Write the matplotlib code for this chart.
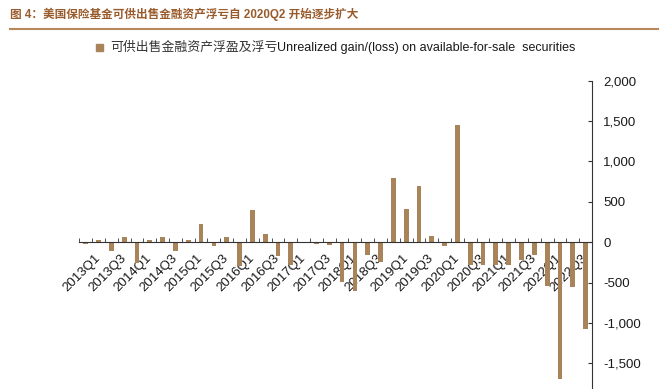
import matplotlib
matplotlib.use("Agg")
import matplotlib.pyplot as plt
from matplotlib.ticker import FuncFormatter, FixedLocator
from matplotlib.lines import Line2D

plt.rcParams['font.family'] = ['Liberation Sans', 'Noto Sans CJK SC', 'DejaVu Sans']

quarters = ["2012Q4"] + [f"{y}Q{q}" for y in range(2013, 2023) for q in range(1, 5)][:39]
values = [-29, 21, -107, 58, -261, 21, 66, -107, 21, 221,
          -45, 58, -294, 398, 107, -169, -282, 3, -21, -37,
          -488, -600, -165, -240, 789, 409, 690, 79, -50, 1450,
          -281, -289, -281, -289, -227, -165, -541, -1690, -550, -1070]
yticks = [-1500, -1000, -500, 0, 500, 1000, 1500, 2000]

title = "图 4：美国保险基金可供出售金融资产浮亏自 2020Q2 开始逐步扩大"
legend_cn = "可供出售金融资产浮盈及浮亏"
legend_en = "Unrealized gain/(loss) on available-for-sale  securities"

bar_color = "#A9835A"
W, H = 668, 389
fig = plt.figure(figsize=(W / 100, H / 100), dpi=100)

ax_left, ax_right = 79.3, 592.0
ax_top, ax_bottom = 80.7, 389.0
ax = fig.add_axes([ax_left / W, 1 - ax_bottom / H, (ax_right - ax_left) / W, (ax_bottom - ax_top) / H])

x = list(range(len(values)))
ax.bar(x, values, width=0.37, color=bar_color, zorder=2)

ax.set_xlim(-0.5, len(values) - 0.5)
ax.set_ylim(-1819, 2000)

for s in ["left", "top"]:
    ax.spines[s].set_visible(False)
ax.spines["bottom"].set_position(("data", 0))
ax.spines["bottom"].set_color("#333333")
ax.spines["right"].set_color("#333333")
ax.spines["bottom"].set_zorder(3)

# x ticks: labels every other quarter (odd indices), tick marks at boundaries
lab_idx = [i for i in x if i % 2 == 1]
ax.set_xticks(lab_idx)
ax.set_xticklabels([quarters[i] for i in lab_idx], rotation=45, ha="right", va="center",
                   rotation_mode="anchor", fontsize=9.5, color="#1a1a1a")
ax.tick_params(axis="x", which="major", length=0, pad=10)
ax.xaxis.set_minor_locator(FixedLocator([i - 0.5 for i in range(len(values) + 1)]))
ax.tick_params(axis="x", which="minor", direction="in", length=3, color="#333333")

ax.yaxis.tick_right()
ax.set_yticks(yticks)
ax.yaxis.set_major_formatter(FuncFormatter(lambda v, p: f"{int(v):,}"))
ax.tick_params(axis="y", direction="in", length=3, pad=8, labelsize=9.5, color="#333333",
               labelcolor="#1a1a1a")

# Title and rule
fig.text(10 / W, 1 - 14 / H, title, fontsize=8.4, fontweight="bold", color="#9A5B2C",
         ha="left", va="center")
fig.add_artist(Line2D([10 / W, 658 / W], [1 - 29 / H, 1 - 29 / H], color="#B8875A", lw=1.5))

# Legend
fig.patches.append(plt.Rectangle((96 / W, 1 - 51 / H), 7 / W, 7 / H, transform=fig.transFigure,
                                 color=bar_color, figure=fig))
t1 = fig.text(110 / W, 1 - 47.5 / H, legend_cn, fontsize=9.25, color="#333333", ha="left", va="center",
              family=["Noto Sans CJK SC"])
fig.canvas.draw()
bb = t1.get_window_extent()
fig.text(bb.x1 / W, 1 - 47.5 / H, legend_en, fontsize=9, color="#1a1a1a", ha="left", va="center")

fig.savefig("out.png", dpi=100)
